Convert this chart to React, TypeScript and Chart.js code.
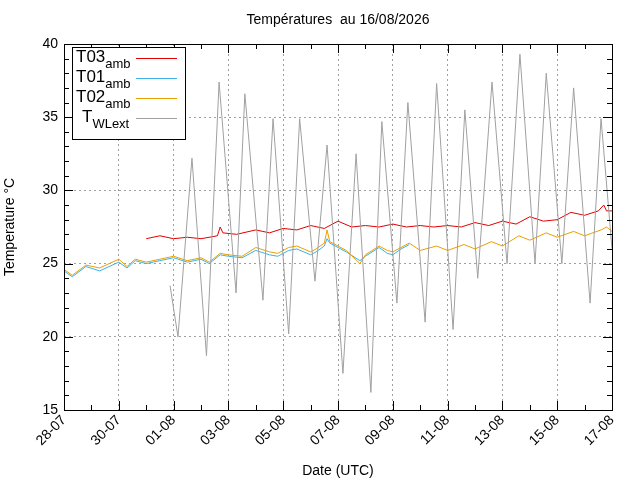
import React, { useEffect, useRef } from "react";
import { Chart, registerables } from "chart.js";
Chart.register(...registerables);

const xTickLabels = ["28-07","30-07","01-08","03-08","05-08","07-08","09-08","11-08","13-08","15-08","17-08"];
const yTicks = [15, 20, 25, 30, 35, 40];

const t03X = [3.0,3.5,4.0,4.5,5.0,5.6,5.7,5.8,6.3,7.0,7.5,8.0,8.5,9.0,9.5,10.0,10.5,11.0,11.5,12.0,12.5,13.0,13.5,14.0,14.5,15.0,15.5,16.0,16.5,17.0,17.5,18.0,18.5,19.0,19.5,19.7,19.8,20.0];
const t03Y = [26.7,26.9,26.7,26.8,26.7,26.9,27.5,27.1,27.0,27.3,27.1,27.4,27.3,27.6,27.4,27.9,27.5,27.6,27.5,27.7,27.5,27.6,27.5,27.6,27.5,27.8,27.6,27.9,27.7,28.2,27.9,28.0,28.5,28.3,28.6,29.0,28.6,28.6];

const t01X = [0,0.3,0.8,1.3,2.0,2.3,2.6,3.0,3.5,4.0,4.5,5.0,5.3,5.7,6.0,6.5,7.0,7.5,7.8,8.2,8.5,9.0,9.2,9.5,9.6,9.7,10.0,10.3,10.8,11.0,11.5,11.8,12.0,12.3,12.6];
const t01Y = [24.5,24.1,24.8,24.5,25.1,24.7,25.2,25.0,25.2,25.4,25.1,25.3,25.0,25.6,25.5,25.4,25.9,25.6,25.5,25.9,26.0,25.6,25.8,26.2,26.7,26.4,26.1,25.8,25.2,25.5,26.1,25.7,25.6,26.0,26.3];

const t02X = [0,0.3,0.8,1.3,2.0,2.3,2.6,3.0,3.5,4.0,4.5,5.0,5.3,5.7,6.0,6.5,7.0,7.5,7.8,8.2,8.5,9.0,9.2,9.5,9.6,9.7,10.0,10.3,10.8,11.0,11.5,11.8,12.0,12.3,12.6,13.0,13.6,14.0,14.6,15.0,15.6,16.0,16.6,17.0,17.6,18.0,18.6,19.0,19.6,19.8,20.0];
const t02Y = [24.6,24.2,24.9,24.7,25.3,24.8,25.3,25.1,25.3,25.5,25.2,25.4,25.1,25.7,25.6,25.5,26.1,25.8,25.7,26.1,26.2,25.8,26.0,26.4,27.3,26.5,26.2,25.9,25.0,25.6,26.2,25.9,25.8,26.1,26.4,25.9,26.2,25.9,26.3,26.0,26.5,26.2,26.9,26.6,27.1,26.8,27.2,26.9,27.3,27.5,27.2];

const twlX = [3.87,4.16,4.67,5.2,5.66,6.28,6.6,7.26,7.63,8.2,8.6,9.16,9.6,10.18,10.66,11.2,11.6,12.15,12.55,13.18,13.6,14.2,14.63,15.1,15.62,16.17,16.64,17.19,17.6,18.17,18.6,19.2,19.6,20.0];
const twlY = [23.5,20.0,32.2,18.7,37.4,23.0,36.6,22.5,34.9,20.2,34.9,23.8,33.1,17.5,32.5,16.2,34.7,22.3,36.0,21.0,37.3,20.5,35.5,24.0,37.4,25.0,39.3,25.0,38.0,25.0,37.0,22.3,34.9,26.0];

const pts = (xs: number[], ys: number[]) => xs.map((x, i) => ({ x, y: ys[i] }));
const FONT = "'Liberation Sans', Arial, sans-serif";

export default function App() {
  const ref = useRef<HTMLCanvasElement>(null);
  useEffect(() => {
    const deco = {
      id: "deco",
      afterDraw(c: any) {
        const { ctx, chartArea: a } = c;
        const xs = c.scales.x, ys = c.scales.y;
        ctx.save();
        ctx.fillStyle = "#000";
        ctx.font = `14px ${FONT}`;
        ctx.textAlign = "center";
        ctx.textBaseline = "middle";
        ctx.fillText("Températures  au 16/08/2026", 338, 20);
        ctx.strokeStyle = "#000";
        ctx.lineWidth = 1;
        ctx.beginPath();
        for (let d = 0; d <= 20; d++) {
          const px = Math.round(xs.getPixelForValue(d)) + 0.5;
          const len = d % 2 === 0 ? 9 : 5;
          ctx.moveTo(px, a.bottom); ctx.lineTo(px, a.bottom - len);
          ctx.moveTo(px, a.top); ctx.lineTo(px, a.top + len);
        }
        for (let v = 15; v <= 40; v += 1) {
          const py = Math.round(ys.getPixelForValue(v)) + 0.5;
          const len = v % 5 === 0 ? 9 : 5;
          ctx.moveTo(a.left, py); ctx.lineTo(a.left + len, py);
          ctx.moveTo(a.right, py); ctx.lineTo(a.right - len, py);
        }
        ctx.stroke();
        ctx.strokeRect(a.left + 0.5, a.top + 0.5, a.right - a.left, a.bottom - a.top);
        // legend
        ctx.fillStyle = "#fff";
        ctx.fillRect(72, 47, 113, 92);
        ctx.strokeRect(72.5, 47.5, 113, 92);
        const items = [["T03", "amb", "#e00000"], ["T01", "amb", "#40b0e8"], ["T02", "amb", "#e8a000"], ["T", "WLext", "#a0a0a0"]];
        items.forEach(([m, s, col], i) => {
          const y = 62 + i * 20;
          ctx.fillStyle = "#000";
          ctx.textAlign = "left";
          ctx.textBaseline = "alphabetic";
          ctx.font = `17px ${FONT}`;
          const mx = i === 3 ? 82 : 76;
          ctx.fillText(m, mx, y);
          const w = ctx.measureText(m).width;
          ctx.font = `13px ${FONT}`;
          ctx.fillText(s, mx + w, y + 6);
          ctx.strokeStyle = col;
          ctx.beginPath(); ctx.moveTo(136, y - 3.5); ctx.lineTo(177, y - 3.5); ctx.stroke();
        });
        ctx.restore();
      },
    };
    const ds = (label: string, xs: number[], ys: number[], color: string) => ({
      label, data: pts(xs, ys), borderColor: color, borderWidth: 1, pointRadius: 0, fill: false, tension: 0,
    });
    const chart = new Chart(ref.current!, {
      type: "line",
      data: {
        datasets: [
          ds("TWLext", twlX, twlY, "#a0a0a0"),
          ds("T02amb", t02X, t02Y, "#e8a000"),
          ds("T01amb", t01X, t01Y, "#40b0e8"),
          ds("T03amb", t03X, t03Y, "#e00000"),
        ],
      },
      options: {
        animation: false, responsive: false, parsing: true,
        layout: { padding: { top: 44, right: 28, left: 0, bottom: 0 } },
        plugins: { legend: { display: false }, tooltip: { enabled: false }, title: { display: false } },
        scales: {
          x: {
            type: "linear", min: 0, max: 20,
            afterBuildTicks: (s: any) => { s.ticks = xTickLabels.map((_, i) => ({ value: i * 2 })); },
            afterFit: (s: any) => { s.height = 70; },
            ticks: { autoSkip: false, minRotation: 45, maxRotation: 45, color: "#000", font: { family: FONT, size: 14 }, padding: 2,
              callback: (v: any) => xTickLabels[Math.round(Number(v) / 2)] },
            grid: { color: "#a0a0a0", lineWidth: 1, drawTicks: false, tickLength: 0 },
            border: { display: false, dash: [2, 3] },
            title: { display: true, text: "Date (UTC)", color: "#000", font: { family: FONT, size: 14 }, padding: 0 },
          },
          y: {
            min: 15, max: 40,
            afterBuildTicks: (s: any) => { s.ticks = yTicks.map((v) => ({ value: v })); },
            afterFit: (s: any) => { s.width = 64; },
            ticks: { color: "#000", font: { family: FONT, size: 14 }, padding: 6 },
            grid: { color: "#a0a0a0", lineWidth: 1, drawTicks: false, tickLength: 0 },
            border: { display: false, dash: [2, 3] },
            title: { display: true, text: "Temperature °C", color: "#000", font: { family: FONT, size: 14 }, padding: 2 },
          },
        },
      },
      plugins: [deco],
    } as any);
    return () => chart.destroy();
  }, []);
  return (
    <div style={{ position: "fixed", left: 0, top: 0, width: 640, height: 480, background: "#fff" }}>
      <canvas ref={ref} width={640} height={480} />
    </div>
  );
}
